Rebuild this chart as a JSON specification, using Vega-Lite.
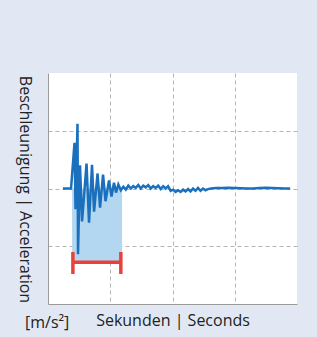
{
  "$schema": "https://vega.github.io/schema/vega-lite/v6.json",
  "width": 249,
  "height": 231,
  "autosize": {"type": "none"},
  "padding": {"left": 48, "top": 73, "right": 20, "bottom": 33},
  "background": "#e1e8f4",
  "config": {
    "view": {"fill": "white", "stroke": null},
    "font": "Open Sans"
  },
  "title": {
    "text": "[m/s²]",
    "orient": "bottom",
    "anchor": "start",
    "dx": 9,
    "offset": -13,
    "fontSize": 16,
    "fontWeight": "normal",
    "color": "#222222",
    "font": "Open Sans"
  },
  "datasets": {
    "sig": [
      {"t": 0.24, "a": 0},
      {"t": 0.37, "a": 0},
      {"t": 0.426, "a": 0.79},
      {"t": 0.442, "a": -0.36},
      {"t": 0.474, "a": 1.12},
      {"t": 0.482, "a": -1.14},
      {"t": 0.514, "a": 0.40},
      {"t": 0.547, "a": -0.57},
      {"t": 0.619, "a": 0.43},
      {"t": 0.659, "a": -0.59},
      {"t": 0.707, "a": 0.41},
      {"t": 0.74, "a": -0.40},
      {"t": 0.796, "a": 0.26},
      {"t": 0.836, "a": -0.33},
      {"t": 0.884, "a": 0.24},
      {"t": 0.924, "a": -0.22},
      {"t": 0.98, "a": 0.14},
      {"t": 1.02, "a": -0.14},
      {"t": 1.06, "a": 0.10},
      {"t": 1.093, "a": -0.07},
      {"t": 1.13, "a": 0.07},
      {"t": 1.17, "a": -0.03},
      {"t": 1.21, "a": 0.03},
      {"t": 1.25, "a": -0.02},
      {"t": 1.29, "a": 0.05},
      {"t": 1.33, "a": 0.0},
      {"t": 1.37, "a": 0.04},
      {"t": 1.41, "a": 0.01},
      {"t": 1.45, "a": 0.06},
      {"t": 1.49, "a": 0.0},
      {"t": 1.53, "a": 0.05},
      {"t": 1.57, "a": 0.02},
      {"t": 1.61, "a": 0.06},
      {"t": 1.65, "a": 0.0},
      {"t": 1.69, "a": 0.04},
      {"t": 1.73, "a": 0.01},
      {"t": 1.77, "a": 0.05},
      {"t": 1.81, "a": -0.01},
      {"t": 1.85, "a": 0.04},
      {"t": 1.89, "a": 0.0},
      {"t": 1.93, "a": 0.04},
      {"t": 1.97, "a": -0.04},
      {"t": 2.01, "a": -0.02},
      {"t": 2.05, "a": -0.06},
      {"t": 2.09, "a": -0.03},
      {"t": 2.13, "a": -0.06},
      {"t": 2.17, "a": -0.02},
      {"t": 2.21, "a": -0.05},
      {"t": 2.25, "a": -0.01},
      {"t": 2.29, "a": -0.05},
      {"t": 2.33, "a": 0.0},
      {"t": 2.37, "a": -0.04},
      {"t": 2.41, "a": 0.01},
      {"t": 2.45, "a": -0.04},
      {"t": 2.49, "a": 0.0},
      {"t": 2.53, "a": -0.03},
      {"t": 2.57, "a": -0.01},
      {"t": 2.62, "a": 0.0},
      {"t": 2.7, "a": 0.01},
      {"t": 2.8, "a": 0.01},
      {"t": 2.9, "a": 0.015},
      {"t": 3.0, "a": 0.01},
      {"t": 3.1, "a": 0.005},
      {"t": 3.2, "a": 0.0},
      {"t": 3.3, "a": 0.0},
      {"t": 3.4, "a": 0.01},
      {"t": 3.5, "a": 0.015},
      {"t": 3.6, "a": 0.01},
      {"t": 3.7, "a": 0.005},
      {"t": 3.8, "a": 0.0},
      {"t": 3.89, "a": 0.0}
    ],
    "shade": [{"t": 0.387, "t2": 1.19, "a": 0, "a2": -1.26}],
    "bracket": [
      {"t": 0.40, "t2": 1.17, "a": -1.276, "a2": -1.276},
      {"t": 0.40, "t2": 0.40, "a": -1.10, "a2": -1.48},
      {"t": 1.17, "t2": 1.17, "a": -1.10, "a2": -1.48}
    ]
  },
  "encoding": {
    "x": {
      "field": "t",
      "type": "quantitative",
      "scale": {"domain": [0, 4], "nice": false, "zero": false},
      "axis": {
        "title": "Sekunden | Seconds",
        "titleFont": "Open Sans",
        "titleFontSize": 16,
        "titleFontWeight": "normal",
        "titleColor": "#222222",
        "titlePadding": 8,
        "labels": false,
        "ticks": false,
        "values": [1, 2, 3],
        "domainColor": "#9a9a9a",
        "domainWidth": 1,
        "grid": true,
        "gridColor": "#b5b5b5",
        "gridDash": [4, 3],
        "gridWidth": 1
      }
    },
    "y": {
      "field": "a",
      "type": "quantitative",
      "scale": {"domain": [-2, 2], "nice": false, "zero": false},
      "axis": {
        "title": "Beschleunigung | Acceleration",
        "titleFont": "Open Sans",
        "titleFontSize": 16,
        "titleFontWeight": "normal",
        "titleColor": "#222222",
        "titleAngle": 90,
        "titleAlign": "center",
        "titleBaseline": "middle",
        "titleX": -24,
        "titleY": 116,
        "labels": false,
        "ticks": false,
        "values": [-1, 0, 1],
        "domainColor": "#9a9a9a",
        "domainWidth": 1,
        "grid": true,
        "gridColor": "#b5b5b5",
        "gridDash": [4, 3],
        "gridWidth": 1
      }
    }
  },
  "layer": [
    {
      "data": {"name": "shade"},
      "mark": {"type": "rect", "color": "#b4d7f1"},
      "encoding": {
        "x2": {"field": "t2"},
        "y2": {"field": "a2"}
      }
    },
    {
      "data": {"name": "sig"},
      "mark": {"type": "line", "color": "#1a70bc", "strokeWidth": 2.5, "strokeJoin": "miter"}
    },
    {
      "data": {"name": "bracket"},
      "mark": {"type": "rule", "color": "#e8403a", "strokeWidth": 3.5},
      "encoding": {
        "x2": {"field": "t2"},
        "y2": {"field": "a2"}
      }
    }
  ]
}
